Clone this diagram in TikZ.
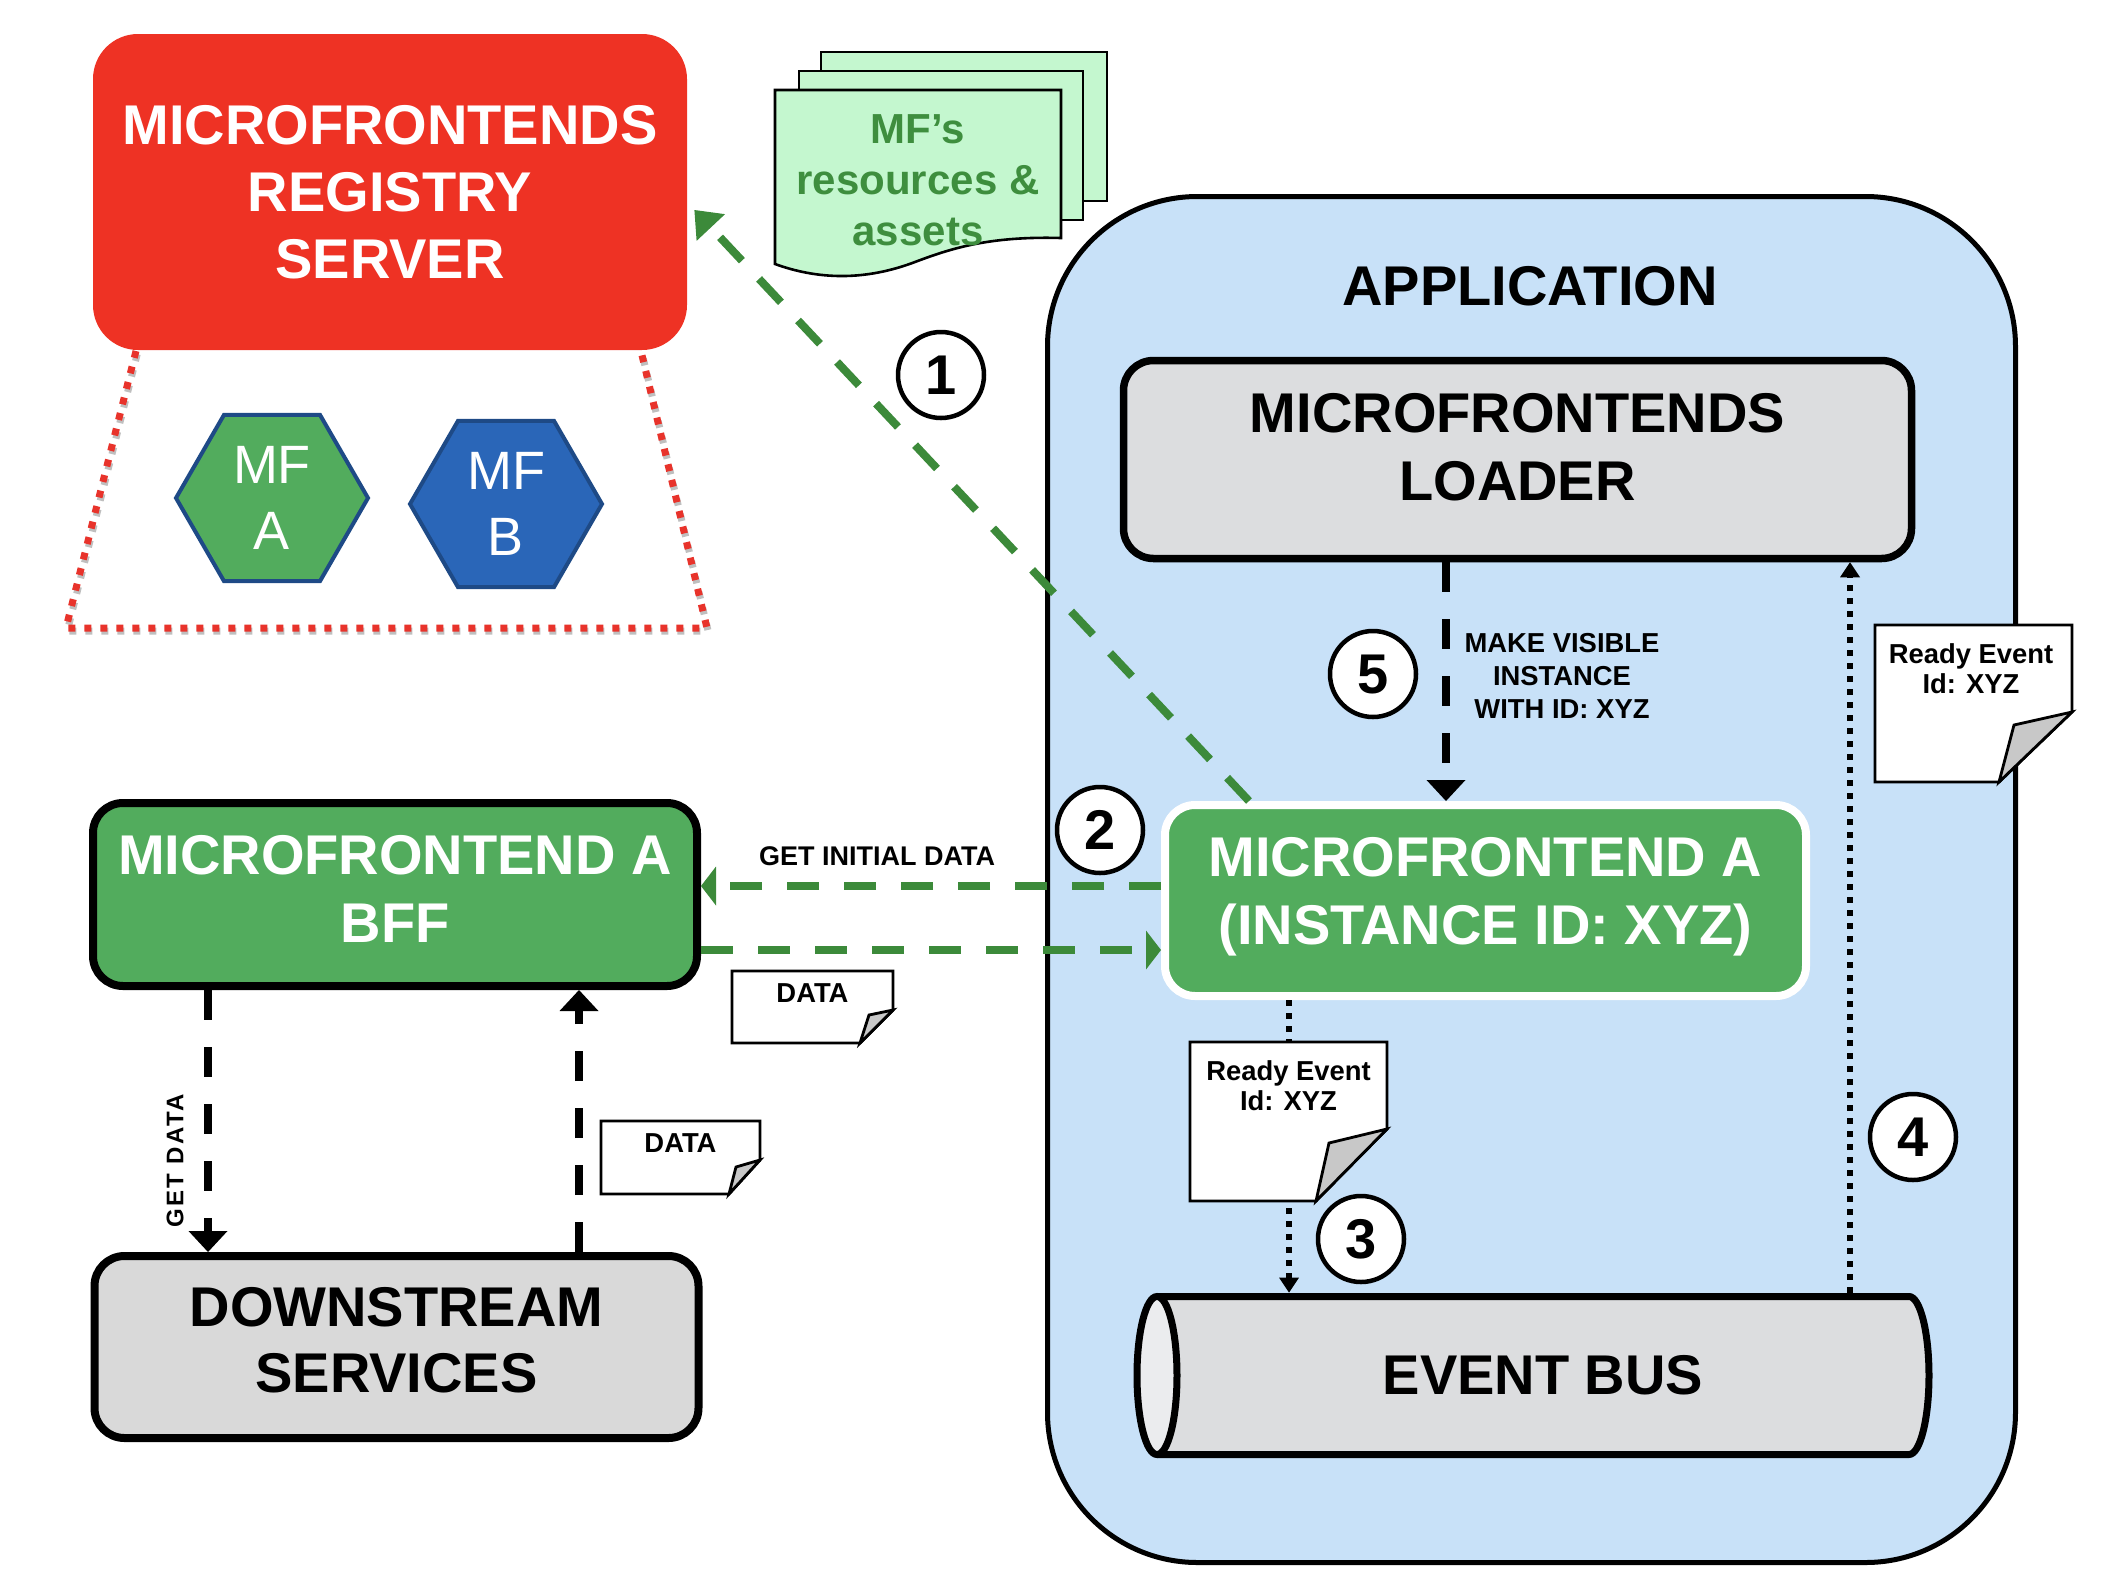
\documentclass[tikz,border=0pt]{standalone}
\usepackage{fontspec}
\setmainfont{Liberation Sans}
\usetikzlibrary{arrows.meta,shapes.geometric}

\definecolor{regred}{HTML}{EE3224}
\definecolor{dotred}{HTML}{E8332B}
\definecolor{mfgreen}{HTML}{52AC5D}
\definecolor{lnkgreen}{HTML}{3C8A3A}
\definecolor{appblue}{HTML}{C8E1F8}
\definecolor{boxgray}{HTML}{DCDDDF}
\definecolor{endgray}{HTML}{EBECEE}
\definecolor{dsgray}{HTML}{D9D9D9}
\definecolor{docgreen}{HTML}{C4F7CF}
\definecolor{doctext}{HTML}{3E8E3E}
\definecolor{hexblue}{HTML}{2A66B8}
\definecolor{hexedge}{HTML}{1E4A86}
\definecolor{flapgray}{HTML}{C8C8C8}

\begin{document}
\begin{tikzpicture}[x=0.5pt,y=-0.5pt,
  big/.style={font=\fontsize{28}{34}\selectfont\bfseries},
  lbl/.style={font=\fontsize{13.7}{15}\selectfont\bfseries, align=center, inner sep=0pt},
  boxk/.style={draw=black, line width=4pt, rounded corners=15pt},
  gdash/.style={draw=lnkgreen, line width=4pt, dash pattern=on 16pt off 12.5pt},
  kdash/.style={draw=black, line width=4pt, dash pattern=on 15pt off 13.5pt},
  kdot/.style={draw=black, line width=3pt, dash pattern=on 3pt off 3.5pt},
  ghead/.style={-{Triangle[length=7.5pt,width=19.5pt,line width=0pt]}},
  khead/.style={-{Triangle[length=10.5pt,width=19.5pt,line width=0pt]}},
  dhead/.style={-{Triangle[length=7.5pt,width=10pt,line width=0pt]}},
  numc/.style={circle, draw=black, line width=2.25pt, fill=white, minimum size=43pt, inner sep=0pt, font=\fontsize{28}{28}\selectfont\bfseries},
  hexn/.style={regular polygon, regular polygon sides=6, minimum size=96pt, inner sep=0pt, draw=hexedge, line width=2pt, text=white, font=\fontsize{27}{33}\selectfont, align=center},
  sheet/.style={draw=black, line width=1.3pt, fill=docgreen},
  notegeo/.style={inner sep=0pt, outer sep=0pt},
  notedraw/.style={draw=black, line width=1.4pt, fill=white},
  flapdraw/.style={draw=black, line width=1.4pt, fill=flapgray},
  reddots/.style={line width=3.5pt, dash pattern=on 3.5pt off 4.5pt},
]
\useasboundingbox (0,0) rectangle (2106,1592);

% ---------- registry ----------
\node[fill=regred, rounded corners=22.5pt, minimum width=297pt, minimum height=158pt, inner sep=0pt, text=white, align=center, font=\fontsize{28}{33.5}\selectfont\bfseries] (reg) at (390,192) {MICROFRONTENDS\\REGISTRY\\SERVER};
\draw[reddots, draw=black!25, transform canvas={xshift=0.6pt,yshift=-1.6pt}] (136,351) -- (66,628) -- (707,628) -- (641,351);
\draw[reddots, draw=dotred] (136,351) -- (66,628) -- (707,628) -- (641,351);
\node[hexn, fill=mfgreen] (mfa) at (272,498) {MF\\A};
\node[hexn, fill=hexblue] (mfb) at (506,504) {MF\\B};

% ---------- resources stack ----------
\draw[sheet] (821,52) rectangle (1107,201);
\draw[sheet] (799,71) rectangle (1083,220);
\draw[sheet] (775,90) -- (1061,90) -- (1061,238) .. controls (990,236) and (952,248) .. (915,262) .. controls (878,276) and (830,284) .. (775,264) -- cycle;
\node[text=doctext, align=center, font=\fontsize{21}{25.5}\selectfont\bfseries] (res) at (918,180) {MF’s\\resources \&\\assets};

% ---------- application ----------
\node[draw=black, line width=2.5pt, fill=appblue, rounded corners=75pt, minimum width=484pt, minimum height=683pt] (app) at (1531.5,879.5) {};
\node[big] (apptitle) at (1530,286) {APPLICATION};

% event bus cylinder
\begin{scope}[shift={(1533,1375.5)}, x=0.5pt, y=0.5pt]
\path[fill=boxgray] (-376,79) -- (376,79) arc[start angle=90, end angle=-90, x radius=20, y radius=79] -- (-376,-79) -- cycle;
\draw[line width=3.5pt] (-376,79) -- (376,79) arc[start angle=90, end angle=-90, x radius=20, y radius=79] -- (-376,-79);
\draw[line width=3.5pt, fill=endgray] (-376,0) ellipse[x radius=20, y radius=79];
\end{scope}
\node[minimum width=399pt, minimum height=82.5pt, inner sep=0pt, label={[name=bust, big, xshift=5pt]center:EVENT BUS}] (bus) at (1533,1375.5) {};

\node[boxk, line width=3.75pt, fill=boxgray, minimum width=394pt, minimum height=99pt, label={[name=loadert, big, align=center, yshift=6.25pt]center:{MICROFRONTENDS\\LOADER}}] (loader) at (1517.5,459.5) {};

\node[draw=white, line width=4pt, fill=mfgreen, rounded corners=15pt, minimum width=320.5pt, minimum height=95.5pt, label={[name=instt, big, text=white, align=center, yshift=2pt]center:{MICROFRONTEND A\\(INSTANCE ID: XYZ)}}] (inst) at (1485.5,900.5) {};

% ---------- left column ----------
\node[boxk, fill=mfgreen, minimum width=302pt, minimum height=91.5pt, label={[name=bfft, big, text=white, align=center, yshift=2.75pt]center:{MICROFRONTEND A\\BFF}}] (bff) at (395,894.5) {};
\node[boxk, fill=dsgray, minimum width=302pt, minimum height=91pt, label={[name=dst, font=\fontsize{28}{33}\selectfont\bfseries, align=center, yshift=3.5pt]center:{DOWNSTREAM\\SERVICES}}] (ds) at (396.5,1347) {};

% ---------- connectors ----------
\draw[gdash, -{Triangle[length=12pt,width=19.5pt,line width=0pt]}] ([xshift=-118.25pt]inst.north) -- ([xshift=3.5pt,yshift=-9pt]reg.east);
\draw[gdash, ghead] ([yshift=7.25pt]inst.west) -- ([yshift=7.25pt]inst.west -| bff.east);
\draw[gdash, ghead] ([yshift=-27.75pt]bff.east) -- ([yshift=-27.75pt]bff.east -| inst.west);

\draw[kdash, khead] ([xshift=-35.75pt]loader.south) -- ([xshift=-35.75pt]loader.south |- inst.north);
\draw[kdash, khead] ([xshift=-93.5pt]bff.south) -- ([xshift=-93.5pt]bff.south |- ds.north);
\draw[kdash, khead] ([xshift=91.25pt]ds.north) -- ([xshift=91.25pt]ds.north |- bff.south);

\draw[kdot, dhead] ([xshift=-98.25pt]inst.south) -- ([xshift=-98.25pt]inst.south |- bus.north);
\draw[kdot, dhead] ([xshift=158.5pt]bus.north) -- ([xshift=158.5pt]bus.north |- loader.south);

% ---------- notes ----------
\node[notegeo, minimum width=98.5pt, minimum height=78.5pt] (rn) at (1973.5,703.5) {};
\draw[notedraw] (rn.north west) -- (rn.north east) -- ([yshift=35pt]rn.south east) -- ([xshift=-36.5pt]rn.south east) -- (rn.south west) -- cycle;
\draw[flapdraw] ([yshift=35pt]rn.south east) -- ([xshift=-29pt,yshift=28.5pt]rn.south east) -- ([xshift=-36.5pt]rn.south east) -- cycle;
\node[lbl] (rnt) at ([xshift=-1.25pt,yshift=-22pt]rn.north) {Ready Event\\Id: XYZ};

\node[notegeo, minimum width=98.5pt, minimum height=79.5pt] (mn) at (1288.5,1121.5) {};
\draw[notedraw] (mn.north west) -- (mn.north east) -- ([yshift=36pt]mn.south east) -- ([xshift=-35.5pt]mn.south east) -- (mn.south west) -- cycle;
\draw[flapdraw] ([yshift=36pt]mn.south east) -- ([xshift=-29pt,yshift=29pt]mn.south east) -- ([xshift=-35.5pt]mn.south east) -- cycle;
\node[lbl] (mnt) at ([yshift=-21.75pt]mn.north) {Ready Event\\Id: XYZ};

\node[notegeo, minimum width=80.5pt, minimum height=36pt] (d1) at (812.5,1007) {};
\draw[notedraw] (d1.north west) -- (d1.north east) -- ([yshift=16.5pt]d1.south east) -- ([xshift=-16.5pt]d1.south east) -- (d1.south west) -- cycle;
\draw[flapdraw] ([yshift=16.5pt]d1.south east) -- ([xshift=-12pt,yshift=14pt]d1.south east) -- ([xshift=-16.5pt]d1.south east) -- cycle;
\node[lbl] (d1t) at ([yshift=-11pt]d1.north) {DATA};

\node[notegeo, minimum width=79.5pt, minimum height=36.5pt] (d2) at (680.5,1157.5) {};
\draw[notedraw] (d2.north west) -- (d2.north east) -- ([yshift=17pt]d2.south east) -- ([xshift=-15.5pt]d2.south east) -- (d2.south west) -- cycle;
\draw[flapdraw] ([yshift=17pt]d2.south east) -- ([xshift=-12pt,yshift=13.5pt]d2.south east) -- ([xshift=-15.5pt]d2.south east) -- cycle;
\node[lbl] (d2t) at ([yshift=-11pt]d2.north) {DATA};

% ---------- numbered circles ----------
\node[numc] (c1) at (941,375) {1};
\node[numc] (c2) at (1100,830) {2};
\node[numc] (c3) at (1361,1239) {3};
\node[numc] (c4) at (1913,1137) {4};
\node[numc] (c5) at (1373,674) {5};

% ---------- labels ----------
\node[lbl, font=\fontsize{13.5}{15}\selectfont\bfseries] (gidt) at (877,856) {GET INITIAL DATA};
\node[lbl, font=\fontsize{13.7}{16.5}\selectfont\bfseries] (mvt) at (1562,676) {MAKE VISIBLE\\INSTANCE\\WITH ID: XYZ};
\node[inner sep=0pt, rotate=90, font=\fontsize{12}{12}\selectfont\bfseries\addfontfeature{LetterSpace=10}] (gdt) at (175,1161) {GET DATA};
\end{tikzpicture}
\end{document}
